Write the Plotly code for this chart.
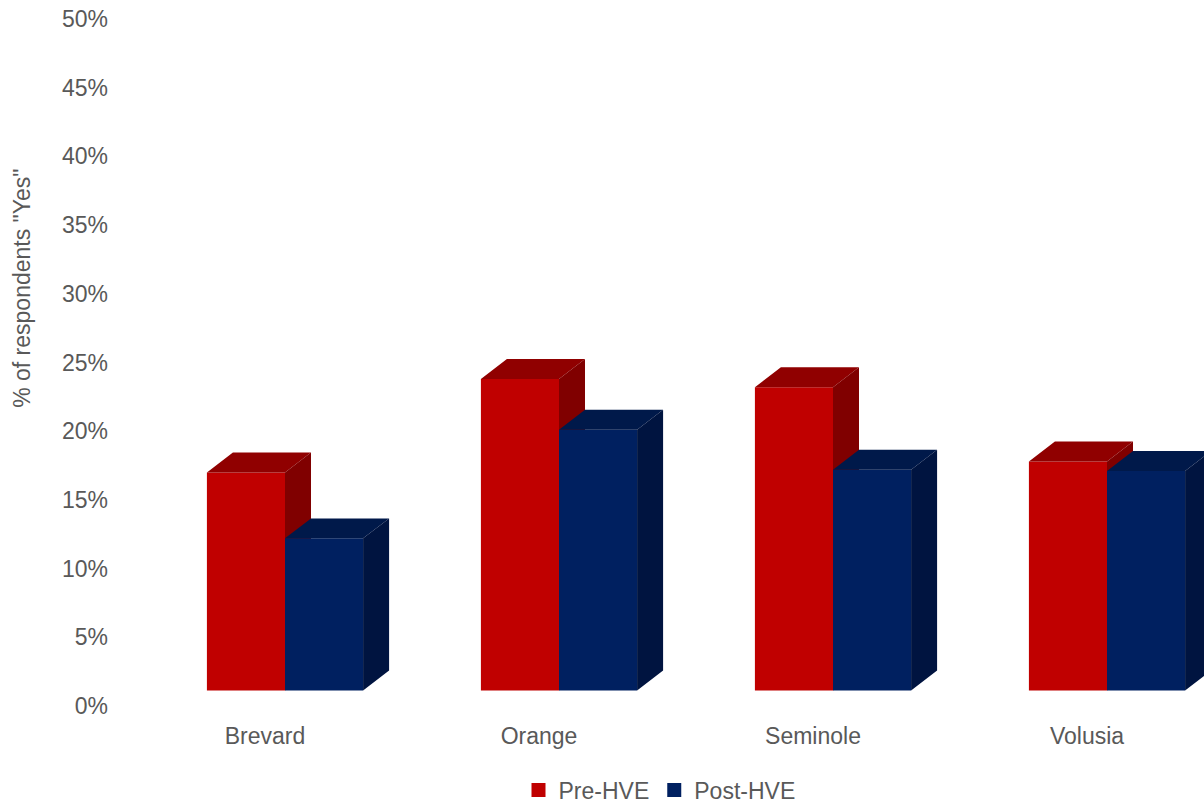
import plotly.graph_objects as go

categories = ["Brevard", "Orange", "Seminole", "Volusia"]
pre_hve = [0.170, 0.238, 0.232, 0.178]
post_hve = [0.122, 0.201, 0.172, 0.171]
y_ticks = [0, 0.05, 0.10, 0.15, 0.20, 0.25, 0.30, 0.35, 0.40, 0.45, 0.50]
y_tick_labels = ["0%", "5%", "10%", "15%", "20%", "25%", "30%", "35%", "40%", "45%", "50%"]

# 3D-look styling constants
BAR_W = 0.285
DX = 0.0949
DY = 0.01454
FLOOR = 0.0113
LABEL_SHIFT = -0.073

series = [
    ("Pre-HVE", pre_hve, -BAR_W / 2, "#C00000", "#900000", "#800000"),
    ("Post-HVE", post_hve, BAR_W / 2, "#002060", "#00194A", "#001440"),
]

fig = go.Figure()

for name, vals, off, c_front, c_top, c_side in series:
    fx, fy, tx, ty, sx, sy = [], [], [], [], [], []
    for i, v in enumerate(vals):
        xl = i + off - BAR_W / 2
        xr = xl + BAR_W
        fx += [xl, xr, xr, xl, xl, None]
        fy += [FLOOR, FLOOR, v, v, FLOOR, None]
        tx += [xl, xr, xr + DX, xl + DX, xl, None]
        ty += [v, v, v + DY, v + DY, v, None]
        sx += [xr, xr + DX, xr + DX, xr, xr, None]
        sy += [FLOOR, FLOOR + DY, v + DY, v, FLOOR, None]
    for xs, ys, col in [(fx, fy, c_front), (tx, ty, c_top), (sx, sy, c_side)]:
        fig.add_trace(go.Scatter(
            x=xs, y=ys, mode="lines", fill="toself", fillcolor=col,
            line=dict(width=0, color=col), showlegend=False, hoverinfo="skip",
        ))
    fig.add_trace(go.Scatter(
        x=[None], y=[None], mode="markers", name=name,
        marker=dict(symbol="square", size=14, color=c_front),
    ))

L = 115
x0 = (L - 285) / 274
x1 = (1204 - 285) / 274

fig.update_layout(
    width=1204, height=803,
    margin=dict(l=L, r=0, t=19, b=97, autoexpand=False),
    plot_bgcolor="white", paper_bgcolor="white",
    font=dict(family="Liberation Sans, Arial, sans-serif", size=23, color="#595959"),
    xaxis=dict(
        range=[x0, x1], showgrid=False, zeroline=False, showline=False,
        tickvals=[i + LABEL_SHIFT for i in range(len(categories))],
        ticktext=categories, ticks="", ticklabelstandoff=14,
    ),
    yaxis=dict(
        range=[0, 0.5], showgrid=False, zeroline=False, showline=False,
        tickvals=y_ticks, ticktext=y_tick_labels, ticks="", ticklabelstandoff=6,
    ),
    legend=dict(
        orientation="h", x=0.5, xanchor="center", y=1 - 790 / 803, yanchor="middle",
        yref="container", font=dict(size=23), itemwidth=30,
    ),
    showlegend=True,
    annotations=[dict(
        text="% of respondents \"Yes\"", xref="paper", yref="paper",
        x=(22 - L) / (1204 - L), y=(706.5 - 289) / (706.5 - 19),
        xanchor="center", yanchor="middle", textangle=-90, showarrow=False,
        font=dict(size=23, color="#595959"),
    )],
)

fig.write_html("out.html")
